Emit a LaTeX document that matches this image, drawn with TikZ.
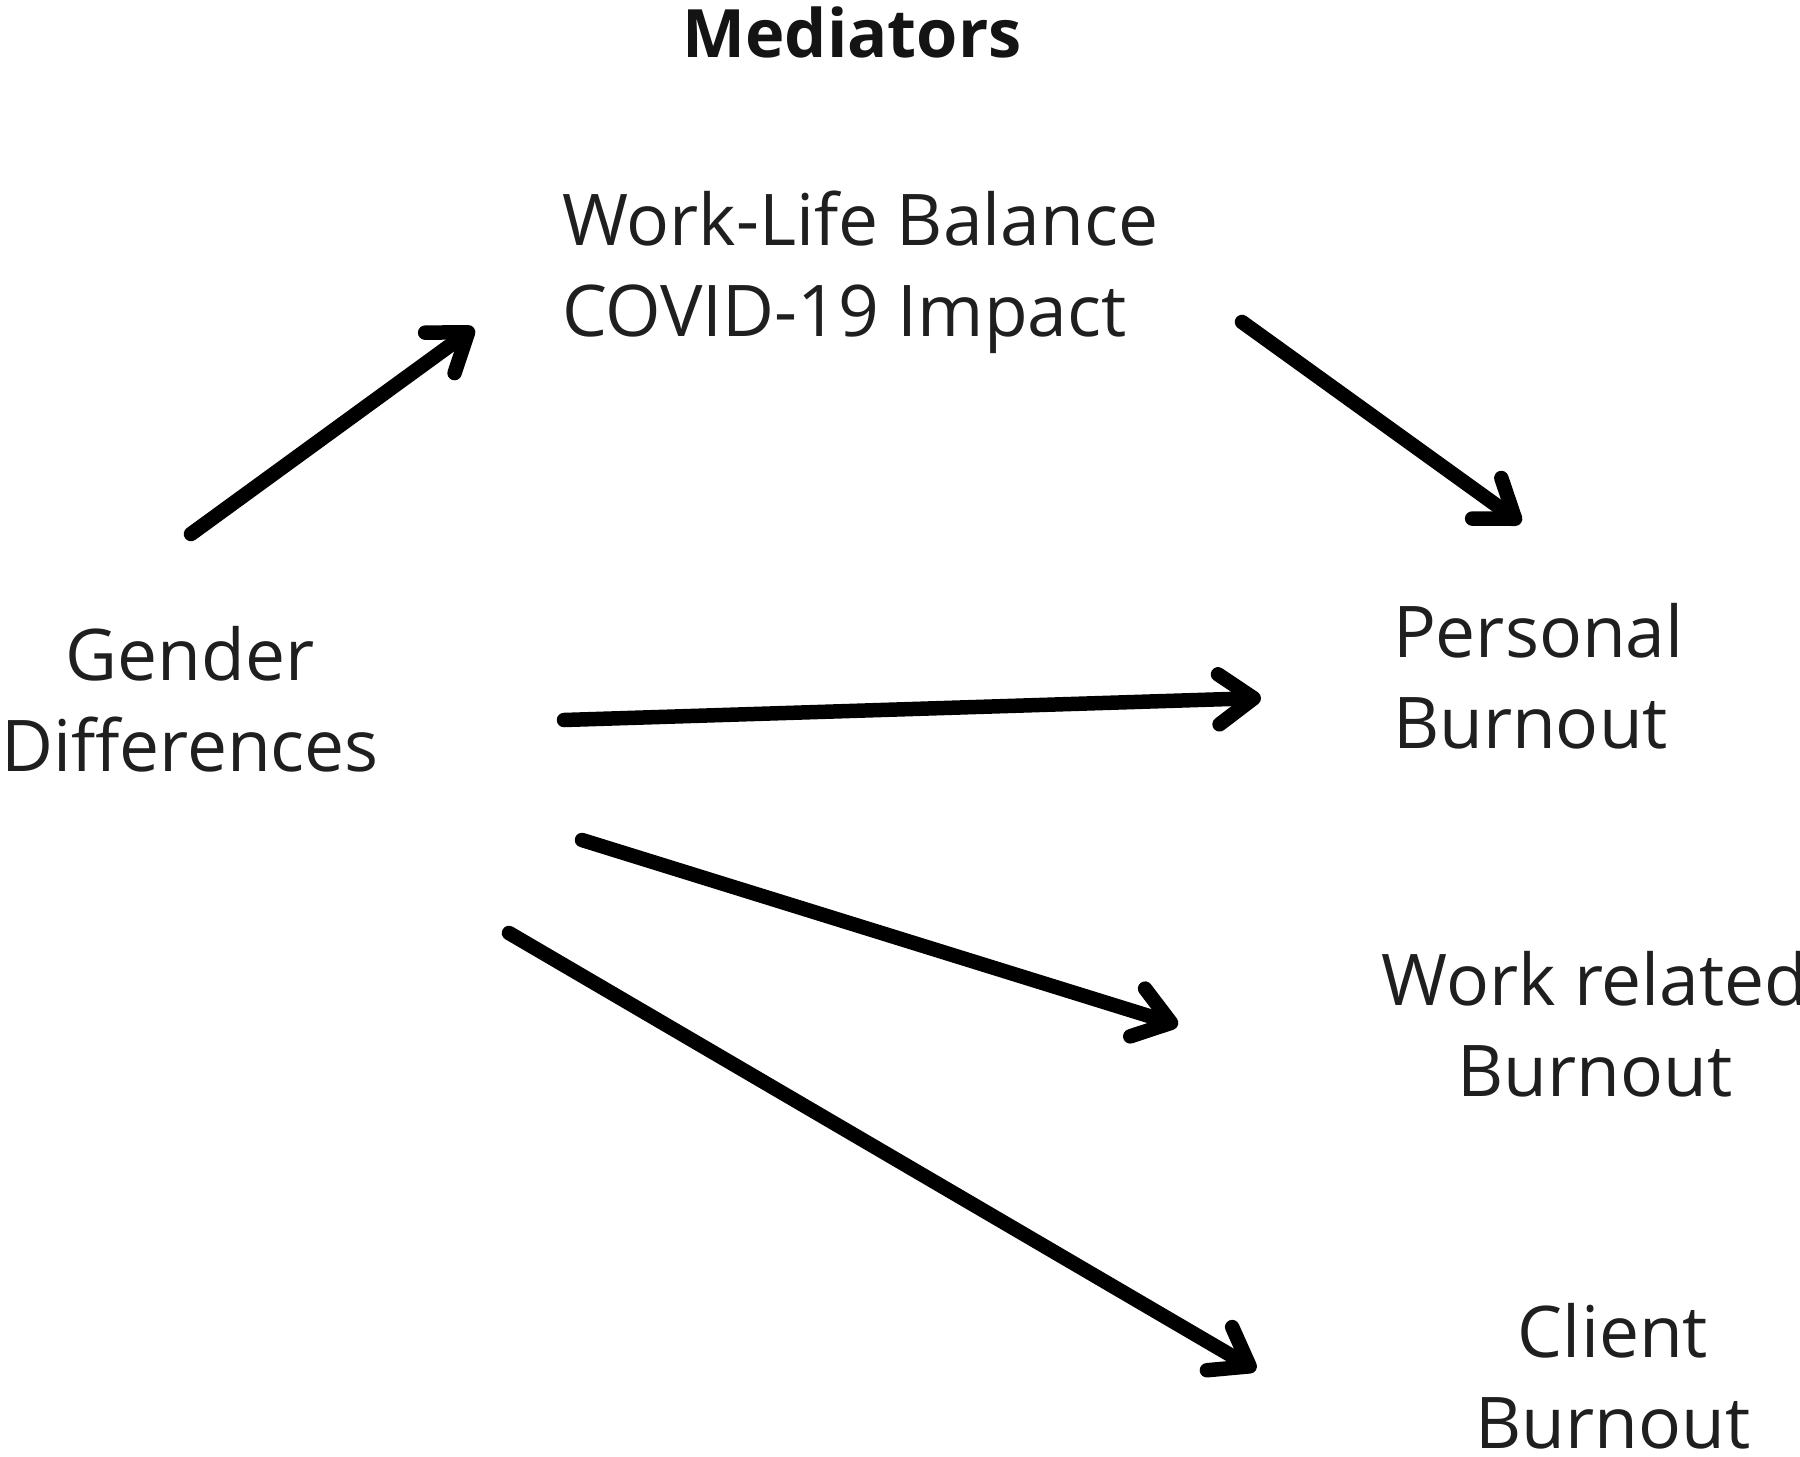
\documentclass[tikz,border=0pt]{standalone}
\usepackage{fontspec}
\setmainfont{Open Sans}
\usetikzlibrary{arrows.meta}
\newcommand\blockL[2]{\vtop{\baselineskip=52.3pt\halign{##\hfil\cr #1\cr #2\cr}}}
\newcommand\blockC[2]{\vtop{\baselineskip=52.3pt\halign{\hfil##\hfil\cr #1\cr #2\cr}}}
\tikzset{
  lbl/.style={inner sep=0pt, outer sep=0pt, text=black!88, font=\fontsize{40.6pt}{52.3pt}\selectfont},
  ttl/.style={inner sep=0pt, outer sep=0pt, text=black!92, font=\fontsize{38pt}{46pt}\selectfont\bfseries},
  arr/.style={line width=0.29cm, line cap=round, black,
    -{Straight Barb[round, length=0.7cm, width=1.0cm]}}
}
\begin{document}
\begin{tikzpicture}[x=0.02cm, y=-0.02cm]
\useasboundingbox (0,0) rectangle (1800,1457);
\node[ttl, anchor=base] (med) at (852,57) {Mediators};
\node[lbl, anchor=base west] (wlb) at (562,245) {\blockL{Work-Life Balance}{COVID-19 Impact}};
\node[lbl, anchor=base] (gen) at (190,680) {\blockC{Gender}{Differences}};
\node[lbl, anchor=base west] (pb) at (1393,657) {\blockL{Personal}{Burnout}};
\node[lbl, anchor=base] (wb) at (1595,1005) {\blockC{Work related}{Burnout}};
\node[lbl, anchor=base] (cb) at (1613,1357) {\blockC{Client}{Burnout}};
\coordinate (a1s) at (191,534); \coordinate (a1e) at (474,328);
\coordinate (a2s) at (1242,322); \coordinate (a2e) at (1521,523);
\coordinate (a3s) at (564,720); \coordinate (a3e) at (1261,698);
\coordinate (a4s) at (582,840); \coordinate (a4e) at (1178,1025);
\coordinate (a5s) at (509,933); \coordinate (a5e) at (1256,1370);
\draw[arr] (a1s) -- (a1e);
\draw[arr] (a2s) -- (a2e);
\draw[arr] (a3s) -- (a3e);
\draw[arr] (a4s) -- (a4e);
\draw[arr] (a5s) -- (a5e);
\end{tikzpicture}
\end{document}
